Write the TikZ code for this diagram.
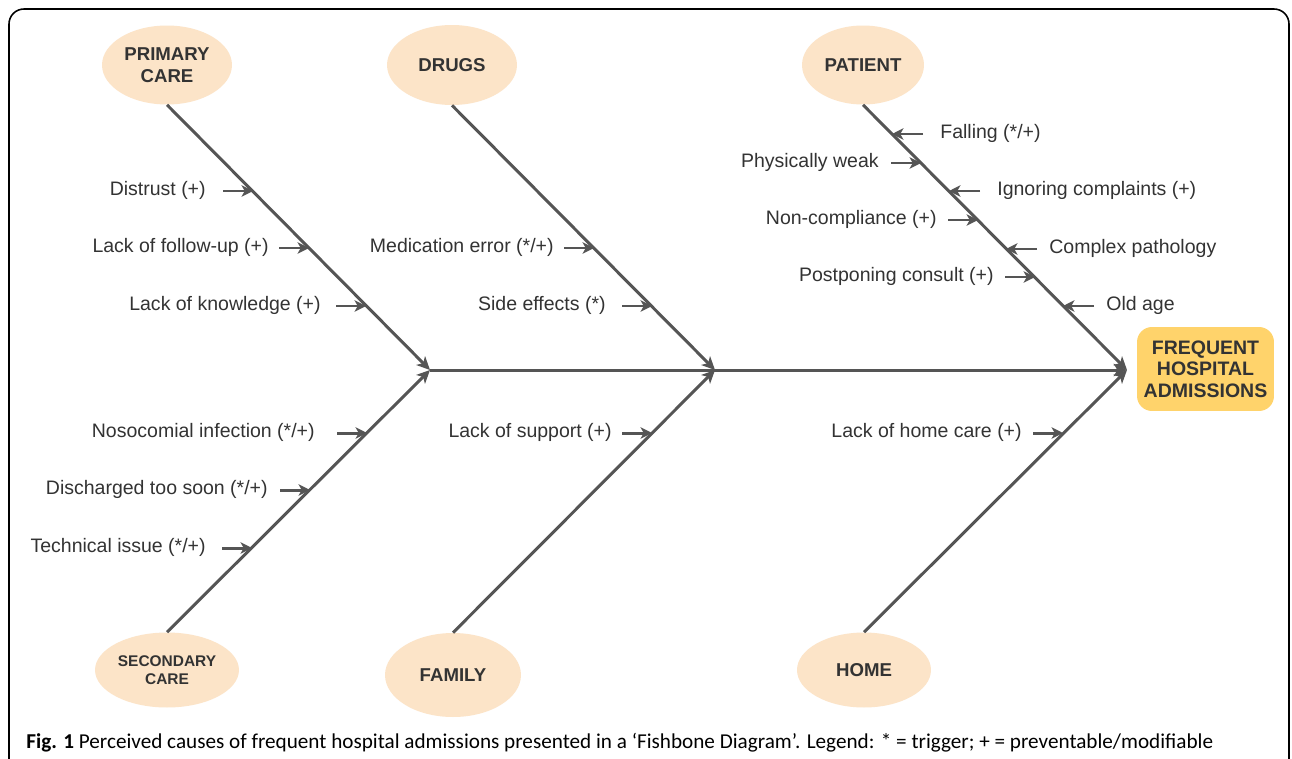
\documentclass[tikz,border=0pt]{standalone}
\usepackage{fontspec}
\setmainfont{Liberation Sans}
\newfontfamily\capfont{Carlito}
\usetikzlibrary{arrows.meta,shapes.geometric}
\definecolor{bonec}{HTML}{555555}
\definecolor{txtc}{HTML}{333333}
\definecolor{peach}{HTML}{FCE4C8}
\definecolor{gold}{HTML}{FFD36B}
\newcommand\causeL[5]{%
  \coordinate (#1b) at (#3,#2);
  \coordinate (#1a) at ([xshift=-0.6cm]#1b);
  \node[lbl,anchor=east] (#1) at (#4,#2) {#5};
  \draw[cause] (#1a) -- (#1b);}
\newcommand\causeR[5]{%
  \coordinate (#1b) at (#3,#2);
  \coordinate (#1a) at ([xshift=0.62cm]#1b);
  \node[lbl,anchor=west] (#1) at (#4,#2) {#5};
  \draw[cause] (#1a) -- (#1b);}
\begin{document}
\begin{tikzpicture}[x=0.02cm,y=-0.02cm,
  bone/.style={draw=bonec,line width=1.7pt,-{Stealth[length=7.5pt,width=7pt,inset=2pt]}},
  cause/.style={draw=bonec,line width=1.7pt,-{Stealth[length=6.5pt,width=6.5pt,inset=1.8pt]}},
  cat/.style={ellipse,fill=peach,inner sep=0pt,font=\fontsize{10.6}{12.5}\selectfont\bfseries,text=txtc,align=center},
  lbl/.style={inner sep=0pt,font=\fontsize{11.1}{13}\selectfont,text=txtc,text height=0.72em,text depth=0.2em},
]
\useasboundingbox (0,0) rectangle (1292,758);
\clip (0,0) rectangle (1292,758);
\fill[white] (0,0) rectangle (1292,758);
\draw[black,line width=0.9pt,rounded corners=0.3cm] (9,9) rectangle (1289,800);

% categories
\node[cat,minimum width=2.6cm,minimum height=1.58cm] (pc) at (167,65) {PRIMARY\\CARE};
\node[cat,minimum width=2.6cm,minimum height=1.6cm] (dr) at (452,65) {DRUGS};
\node[cat,minimum width=2.44cm,minimum height=1.58cm] (pa) at (863,65) {PATIENT};
\node[cat,minimum width=2.88cm,minimum height=1.5cm,font=\fontsize{8.8}{10.4}\selectfont\bfseries] (sc) at (167,670) {SECONDARY\\CARE};
\node[cat,minimum width=2.72cm,minimum height=1.68cm] (fa) at (453,675) {FAMILY};
\node[cat,minimum width=2.68cm,minimum height=1.5cm] (ho) at (864,670) {HOME};

\node[fill=gold,rounded corners=0.3cm,minimum width=2.74cm,minimum height=1.68cm,inner sep=0pt,
      font=\fontsize{11.1}{12.3}\selectfont\bfseries,text=txtc,align=center] (head) at (1205.5,369) {FREQUENT\\HOSPITAL\\ADMISSIONS};

% junctions
\coordinate (j1) at (430,370);
\coordinate (j2) at (715,370);
\coordinate (j3) at (1127,370);

% spine and bones
\draw[bone] (j1) -- (j3);
\draw[bone] (pc.south) -- (j1);
\draw[bone] (sc.north) -- (j1);
\draw[bone] (dr.south) -- (j2);
\draw[bone] (fa.north) -- (j2);
\draw[bone] (pa.south) -- (j3);
\draw[bone] (ho.north) -- (j3);

% primary care
\causeL{c1}{191}{253}{206}{Distrust (+)}
\causeL{c2}{248}{309}{269}{Lack of follow-up (+)}
\causeL{c3}{306}{366}{321}{Lack of knowledge (+)}
% secondary care
\causeL{c4}{433}{367}{315}{Nosocomial infection (*/+)}
\causeL{c5}{490}{310}{268}{Discharged too soon (*/+)}
\causeL{c6}{548}{252}{206}{Technical issue (*/+)}
% drugs
\causeL{c7}{248}{594}{554}{Medication error (*/+)}
\causeL{c8}{306}{652}{606}{Side effects (*)}
% family
\causeL{c9}{433}{652}{612}{Lack of support (+)}
% home
\causeL{c10}{433}{1063}{1022}{Lack of home care (+)}
% patient
\causeR{p1}{134}{892}{940}{Falling (*/+)}
\causeL{p2}{163}{921}{879}{Physically weak}
\causeR{p3}{191}{949}{997}{Ignoring complaints (+)}
\causeL{p4}{220}{978}{937}{Non-compliance (+)}
\causeR{p5}{249}{1006}{1049}{Complex pathology}
\causeL{p6}{277}{1035}{994}{Postponing consult (+)}
\causeR{p7}{306}{1063}{1106}{Old age}

% caption
\node[anchor=base west,inner sep=0pt,text=black] (cap) at (26,748)
  {\resizebox{23.74cm}{!}{\capfont\textbf{Fig. 1} Perceived causes of frequent hospital admissions presented in a ‘Fishbone Diagram’. Legend: * = trigger; + = preventable/modifiable}};
\end{tikzpicture}
\end{document}
